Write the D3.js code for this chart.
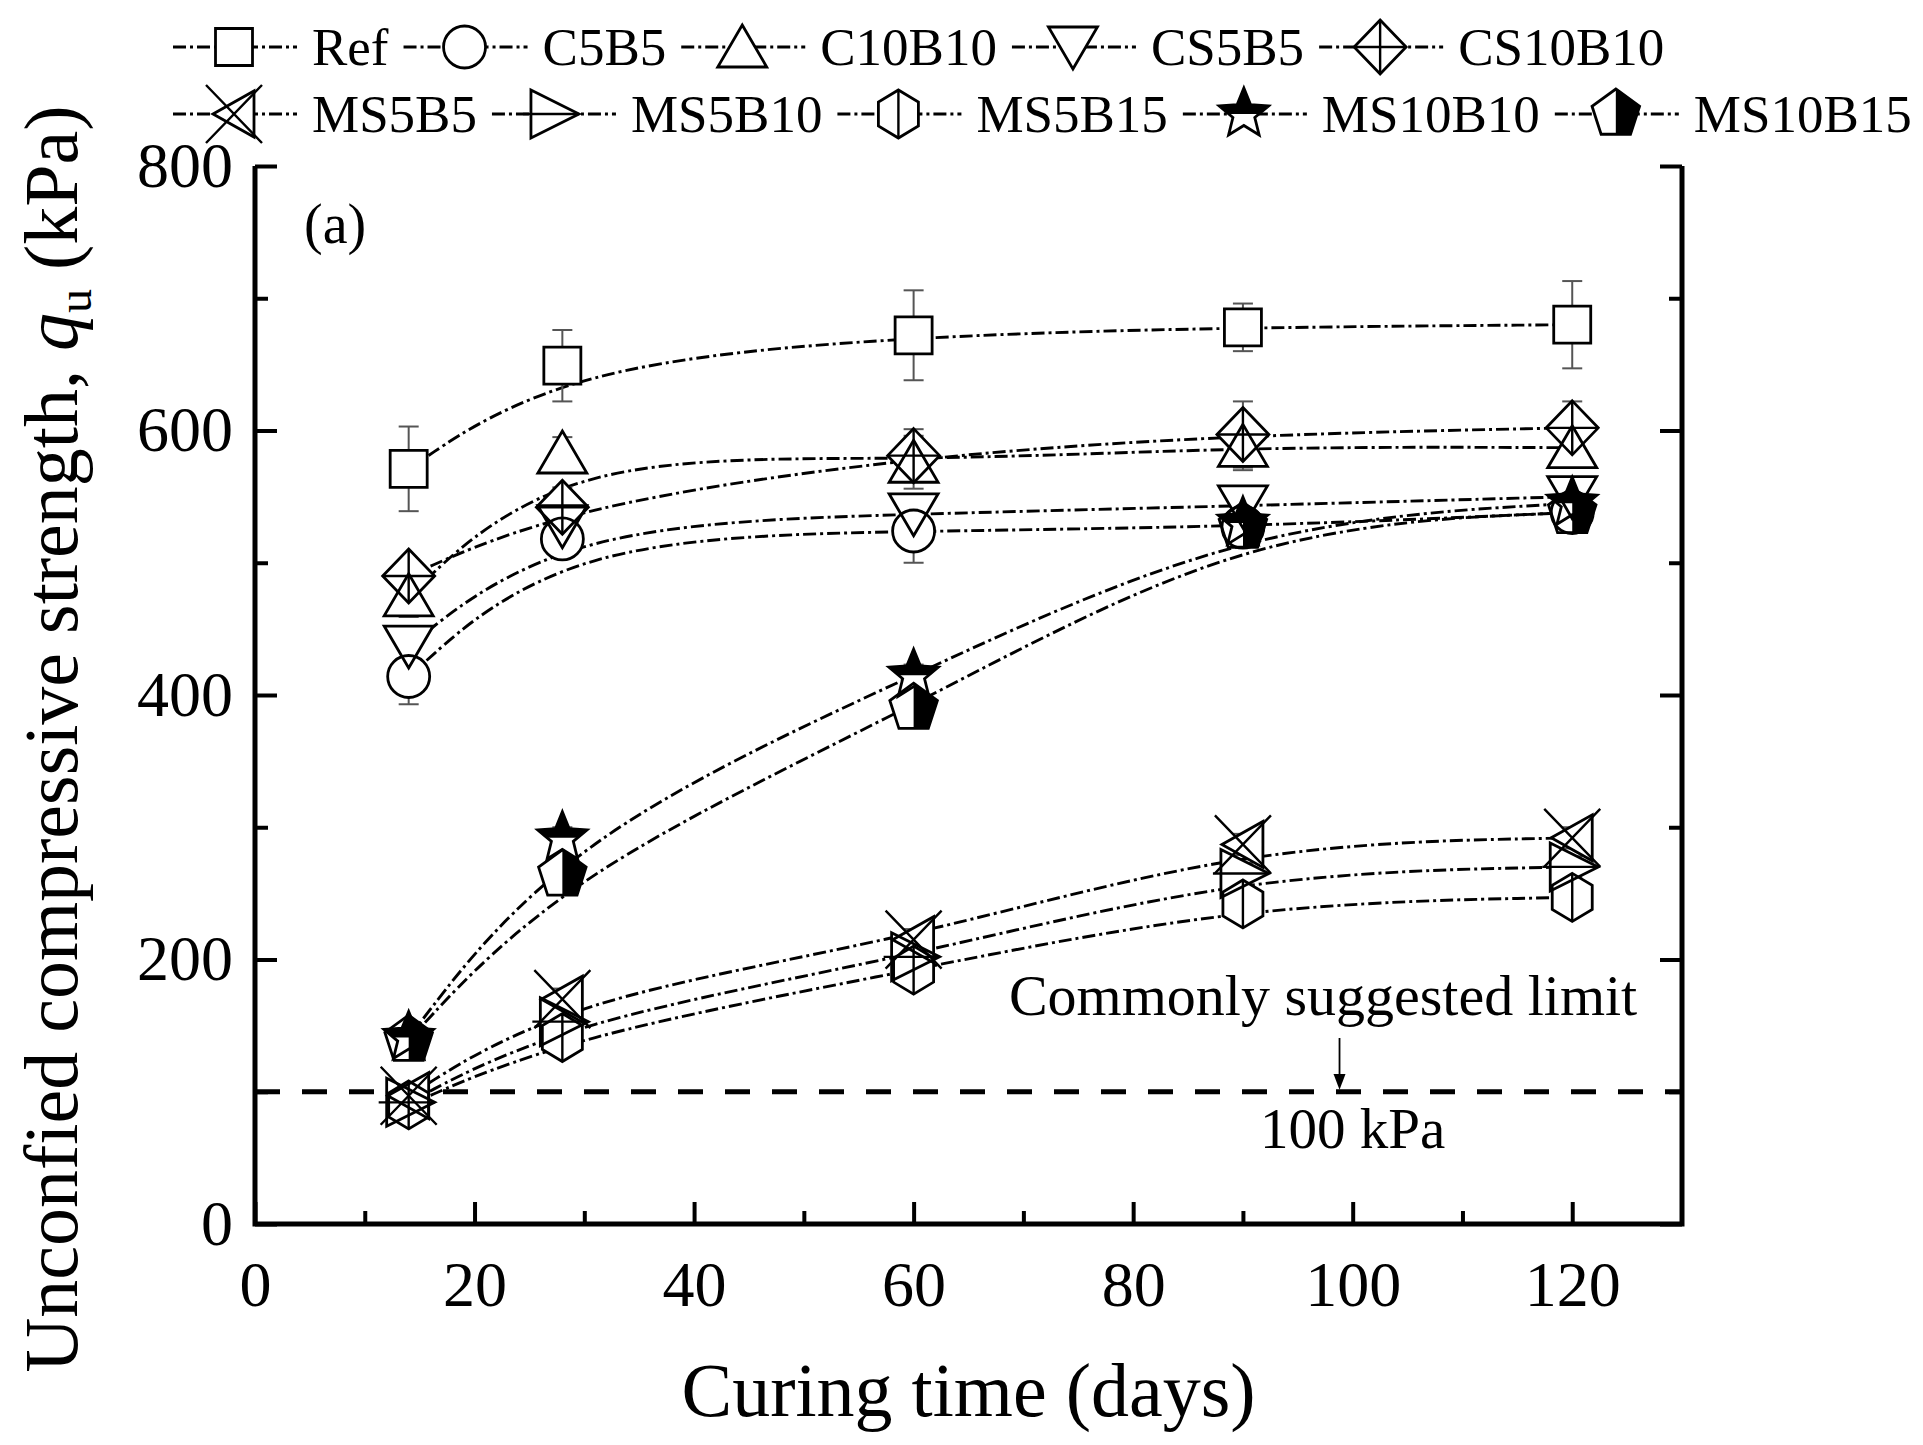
<!DOCTYPE html>
<html><head><meta charset="utf-8">
<script src="https://cdn.jsdelivr.net/npm/d3@7"></script>
<style>
body{margin:0;background:#fff}
svg{display:block}
text{font-family:"Liberation Serif","Times New Roman",serif;fill:#000}
</style>
</head><body>
<svg id="c" width="1923" height="1445"></svg>
<script>
// ---------------- data ----------------
const days = [14, 28, 60, 90, 120];
const seriesNames = ["Ref","C5B5","C10B10","CS5B5","CS10B10","MS5B5","MS5B10","MS5B15","MS10B10","MS10B15"];
const refVals     = [571, 649, 672, 678, 680];
const c5b5Vals    = [414, 518, 524, 527, 538];
const c10b10Vals  = [475, 583, 576, 588, 587];
const cs5b5Vals   = [437, 528, 537, 543, 550];
const cs10b10Vals = [490, 542, 581, 597, 602];
const ms5b5Vals   = [97, 170, 215, 287, 292];
const ms5b10Vals  = [92, 153, 202, 265, 270];
const ms5b15Vals  = [90, 141, 192, 242, 247];
const ms10b10Vals = [141, 292, 415, 530, 545];
const ms10b15Vals = [139, 264, 390, 527, 538];
const refErr     = [32, 27, 34, 18, 33];
const c5b5Err    = [21, 14, 24, 10, 12];
const c10b10Err  = [16, 12, 20, 18, 15];
const cs5b5Err   = [14, 20, 15, 12, 12];
const cs10b10Err = [12, 15, 20, 25, 20];
const ms5b5Err   = [8, 8, 8, 8, 8];
const ms5b10Err  = [8, 8, 8, 8, 8];
const ms5b15Err  = [8, 8, 8, 8, 8];
const ms10b10Err = [8, 8, 8, 8, 8];
const ms10b15Err = [8, 8, 8, 8, 8];
const symbolTypes = ["square","circle","triUp","triDown","diamondPlus","leftTriX","rightTriLine","hexLine","starHalf","pentHalf"];
const xTicks = [0, 20, 40, 60, 80, 100, 120];
const xMinorTicks = [10, 30, 50, 70, 90, 110];
const yTicks = [0, 200, 400, 600, 800];
const yMinorTicks = [100, 300, 500, 700];
const limitValue = 100;
const xTitle = "Curing time (days)";
const panelLabel = "(a)";
const limitText = "Commonly suggested limit";
const limitValueText = "100 kPa";

const allVals = [refVals,c5b5Vals,c10b10Vals,cs5b5Vals,cs10b10Vals,ms5b5Vals,ms5b10Vals,ms5b15Vals,ms10b10Vals,ms10b15Vals];
const allErr  = [refErr,c5b5Err,c10b10Err,cs5b5Err,cs10b10Err,ms5b5Err,ms5b10Err,ms5b15Err,ms10b10Err,ms10b15Err];
const series = seriesNames.map((n,i)=>({name:n, sym:symbolTypes[i],
  pts: days.map((d,j)=>({d, v:allVals[i][j], e:allErr[i][j]}))}));

// ---------------- setup ----------------
const FONT = '"Liberation Serif","Times New Roman",serif';
const svg = d3.select("#c");
const x = d3.scaleLinear().domain([0,130]).range([255,1682]);
const y = d3.scaleLinear().domain([0,800]).range([1224,166]);
const DASHDOT = "13,4,3,4";

const defs = svg.append("defs");
defs.append("clipPath").attr("id","clipTop").append("rect").attr("x",-40).attr("y",-40).attr("width",80).attr("height",40);
defs.append("clipPath").attr("id","clipRight").append("rect").attr("x",0).attr("y",-40).attr("width",40).attr("height",80);

function polyD(pts){return "M"+pts.map(p=>p[0].toFixed(2)+","+p[1].toFixed(2)).join("L")+"Z";}
function starPts(R,r){const a=[];for(let i=0;i<10;i++){const ang=(-90+i*36)*Math.PI/180;const rr=i%2?r:R;a.push([rr*Math.cos(ang),rr*Math.sin(ang)]);}return a;}
function pentPts(R){const a=[];for(let i=0;i<5;i++){const ang=(-90+i*72)*Math.PI/180;a.push([R*Math.cos(ang),R*Math.sin(ang)]);}return a;}
const SYM = {
  square:{outline:polyD([[-18.5,-18.5],[18.5,-18.5],[18.5,18.5],[-18.5,18.5]])},
  circle:{outline:"M21,0A21,21 0 1,1 -21,0A21,21 0 1,1 21,0Z"},
  triUp:{outline:polyD([[0,-22],[24.5,20],[-24.5,20]])},
  triDown:{outline:polyD([[0,22],[24.5,-20],[-24.5,-20]])},
  diamondPlus:{outline:polyD([[0,-27],[26,0],[0,27],[-26,0]]), extra:"M-26,0H26M0,-27V27"},
  leftTriX:{outline:polyD([[-21,0],[20,-23],[20,23]]), extra:"M-28,-29L28,29M28,-29L-28,29"},
  rightTriLine:{outline:polyD([[-22,-24],[-22,24],[26,0]]), extra:"M-30,0H26"},
  hexLine:{outline:polyD([[0,-24],[20,-12],[20,12],[0,24],[-20,12],[-20,-12]]), extra:"M0,-24V24"},
  starHalf:{outline:polyD(starPts(26,11.5)), clip:"clipTop"},
  pentHalf:{outline:polyD(pentPts(25)), clip:"clipRight"}
};
function markerBack(g,type){ g.append("path").attr("d",SYM[type].outline).attr("fill","#fff").attr("stroke","none"); }
function markerFront(g,type){
  const s=SYM[type];
  if(s.clip) g.append("path").attr("d",s.outline).attr("fill","#000").attr("clip-path",`url(#${s.clip})`);
  g.append("path").attr("d",s.outline).attr("fill","none").attr("stroke","#000").attr("stroke-width",2.8).attr("stroke-linejoin","miter");
  if(s.extra) g.append("path").attr("d",s.extra).attr("fill","none").attr("stroke","#000").attr("stroke-width",2.4);
}

// ---------------- 100 kPa limit line ----------------
svg.append("line").attr("x1",x(0)).attr("x2",x(130)).attr("y1",y(limitValue)).attr("y2",y(limitValue))
  .attr("stroke","#000").attr("stroke-width",5).attr("stroke-dasharray","25,22");

// ---------------- curves ----------------
const line = d3.line().x(p=>x(p.d)).y(p=>y(p.v)).curve(d3.curveBasis);
svg.append("g").selectAll("path").data(series).join("path")
  .attr("d",s=>line(s.pts)).attr("fill","none").attr("stroke","#000")
  .attr("stroke-width",2.9).attr("stroke-dasharray",DASHDOT);

// ---------------- error bars ----------------
const eg = svg.append("g").attr("stroke","#555").attr("stroke-width",2).attr("fill","none");
series.forEach(s=>s.pts.forEach(p=>{
  eg.append("line").attr("x1",x(p.d)).attr("x2",x(p.d)).attr("y1",y(p.v-p.e)).attr("y2",y(p.v+p.e));
  eg.append("line").attr("x1",x(p.d)-10).attr("x2",x(p.d)+10).attr("y1",y(p.v-p.e)).attr("y2",y(p.v-p.e));
  eg.append("line").attr("x1",x(p.d)-10).attr("x2",x(p.d)+10).attr("y1",y(p.v+p.e)).attr("y2",y(p.v+p.e));
}));

// ---------------- markers ----------------
const mBack = svg.append("g"), mFront = svg.append("g");
series.forEach(s=>s.pts.forEach(p=>{
  markerBack(mBack.append("g").attr("transform",`translate(${x(p.d)},${y(p.v)})`), s.sym);
}));
series.forEach(s=>s.pts.forEach(p=>{
  markerFront(mFront.append("g").attr("transform",`translate(${x(p.d)},${y(p.v)})`), s.sym);
}));

// ---------------- axes ----------------
function styleAxis(g){ g.attr("font-family",FONT).attr("font-size",64); g.select(".domain").remove();
  g.selectAll(".tick line").attr("stroke","#000").attr("stroke-width",4); g.selectAll("text").attr("fill","#000"); }
svg.append("g").attr("transform",`translate(0,${y(0)})`)
  .call(d3.axisBottom(x).tickValues(xTicks).tickSizeInner(-22).tickSizeOuter(0).tickPadding(37).tickFormat(d3.format("d"))).call(styleAxis);
svg.append("g").attr("transform",`translate(0,${y(0)})`)
  .call(d3.axisBottom(x).tickValues(xMinorTicks).tickSizeInner(-13).tickSizeOuter(0).tickFormat("")).call(styleAxis);
svg.append("g").attr("transform",`translate(${x(0)},0)`)
  .call(d3.axisLeft(y).tickValues(yTicks).tickSizeInner(-22).tickSizeOuter(0).tickPadding(22).tickFormat(d3.format("d"))).call(styleAxis);
svg.append("g").attr("transform",`translate(${x(0)},0)`)
  .call(d3.axisLeft(y).tickValues(yMinorTicks).tickSizeInner(-13).tickSizeOuter(0).tickFormat("")).call(styleAxis);
svg.append("g").attr("transform",`translate(${x(130)},0)`)
  .call(d3.axisRight(y).tickValues(yTicks).tickSizeInner(-22).tickSizeOuter(0).tickFormat("")).call(styleAxis);
svg.append("g").attr("transform",`translate(${x(130)},0)`)
  .call(d3.axisRight(y).tickValues(yMinorTicks).tickSizeInner(-13).tickSizeOuter(0).tickFormat("")).call(styleAxis);
svg.append("path").attr("d",`M${x(0)},${y(800)}V${y(0)}H${x(130)}V${y(800)}`)
  .attr("fill","none").attr("stroke","#000").attr("stroke-width",5).attr("stroke-linejoin","miter");

// ---------------- titles & annotations ----------------
svg.append("text").attr("x",(x(0)+x(130))/2).attr("y",1416).attr("text-anchor","middle").attr("font-size",76).text(xTitle);
const yt = svg.append("text").attr("transform","translate(77,739) rotate(-90)").attr("text-anchor","middle").attr("font-size",76);
yt.append("tspan").text("Unconfied compressive strength, ");
yt.append("tspan").attr("font-style","italic").text("q");
yt.append("tspan").attr("font-size",48).attr("dy",14).text("u");
yt.append("tspan").attr("dy",-14).text(" (kPa)");

svg.append("text").attr("x",304).attr("y",243).attr("font-size",56).text(panelLabel);
svg.append("text").attr("x",x(97.3)).attr("y",1015).attr("text-anchor","middle").attr("font-size",58).text(limitText);
svg.append("text").attr("x",x(100)).attr("y",1148).attr("text-anchor","middle").attr("font-size",57).text(limitValueText);
const ax = x(98.8);
svg.append("line").attr("x1",ax).attr("x2",ax).attr("y1",1038).attr("y2",1078).attr("stroke","#000").attr("stroke-width",1.8);
svg.append("path").attr("d",`M${ax-6},${1074}L${ax+6},${1074}L${ax},${y(limitValue)-2}Z`).attr("fill","#000");

// ---------------- legend ----------------
const legRows = [[0,1,2,3,4],[5,6,7,8,9]];
const rowY = [47, 114];
legRows.forEach((row,ri)=>{
  let cx = 173;
  row.forEach(i=>{
    const g = svg.append("g");
    const cy = rowY[ri];
    g.append("line").attr("x1",cx).attr("x2",cx+124).attr("y1",cy).attr("y2",cy)
      .attr("stroke","#000").attr("stroke-width",2.9).attr("stroke-dasharray",DASHDOT);
    const mg = g.append("g").attr("transform",`translate(${cx+61},${cy})`);
    markerBack(mg, series[i].sym); markerFront(mg, series[i].sym);
    const t = g.append("text").attr("x",cx+139).attr("y",cy+18).attr("font-size",53).text(series[i].name);
    cx = cx + 139 + t.node().getComputedTextLength() + 15;
  });
});
</script>
</body></html>
